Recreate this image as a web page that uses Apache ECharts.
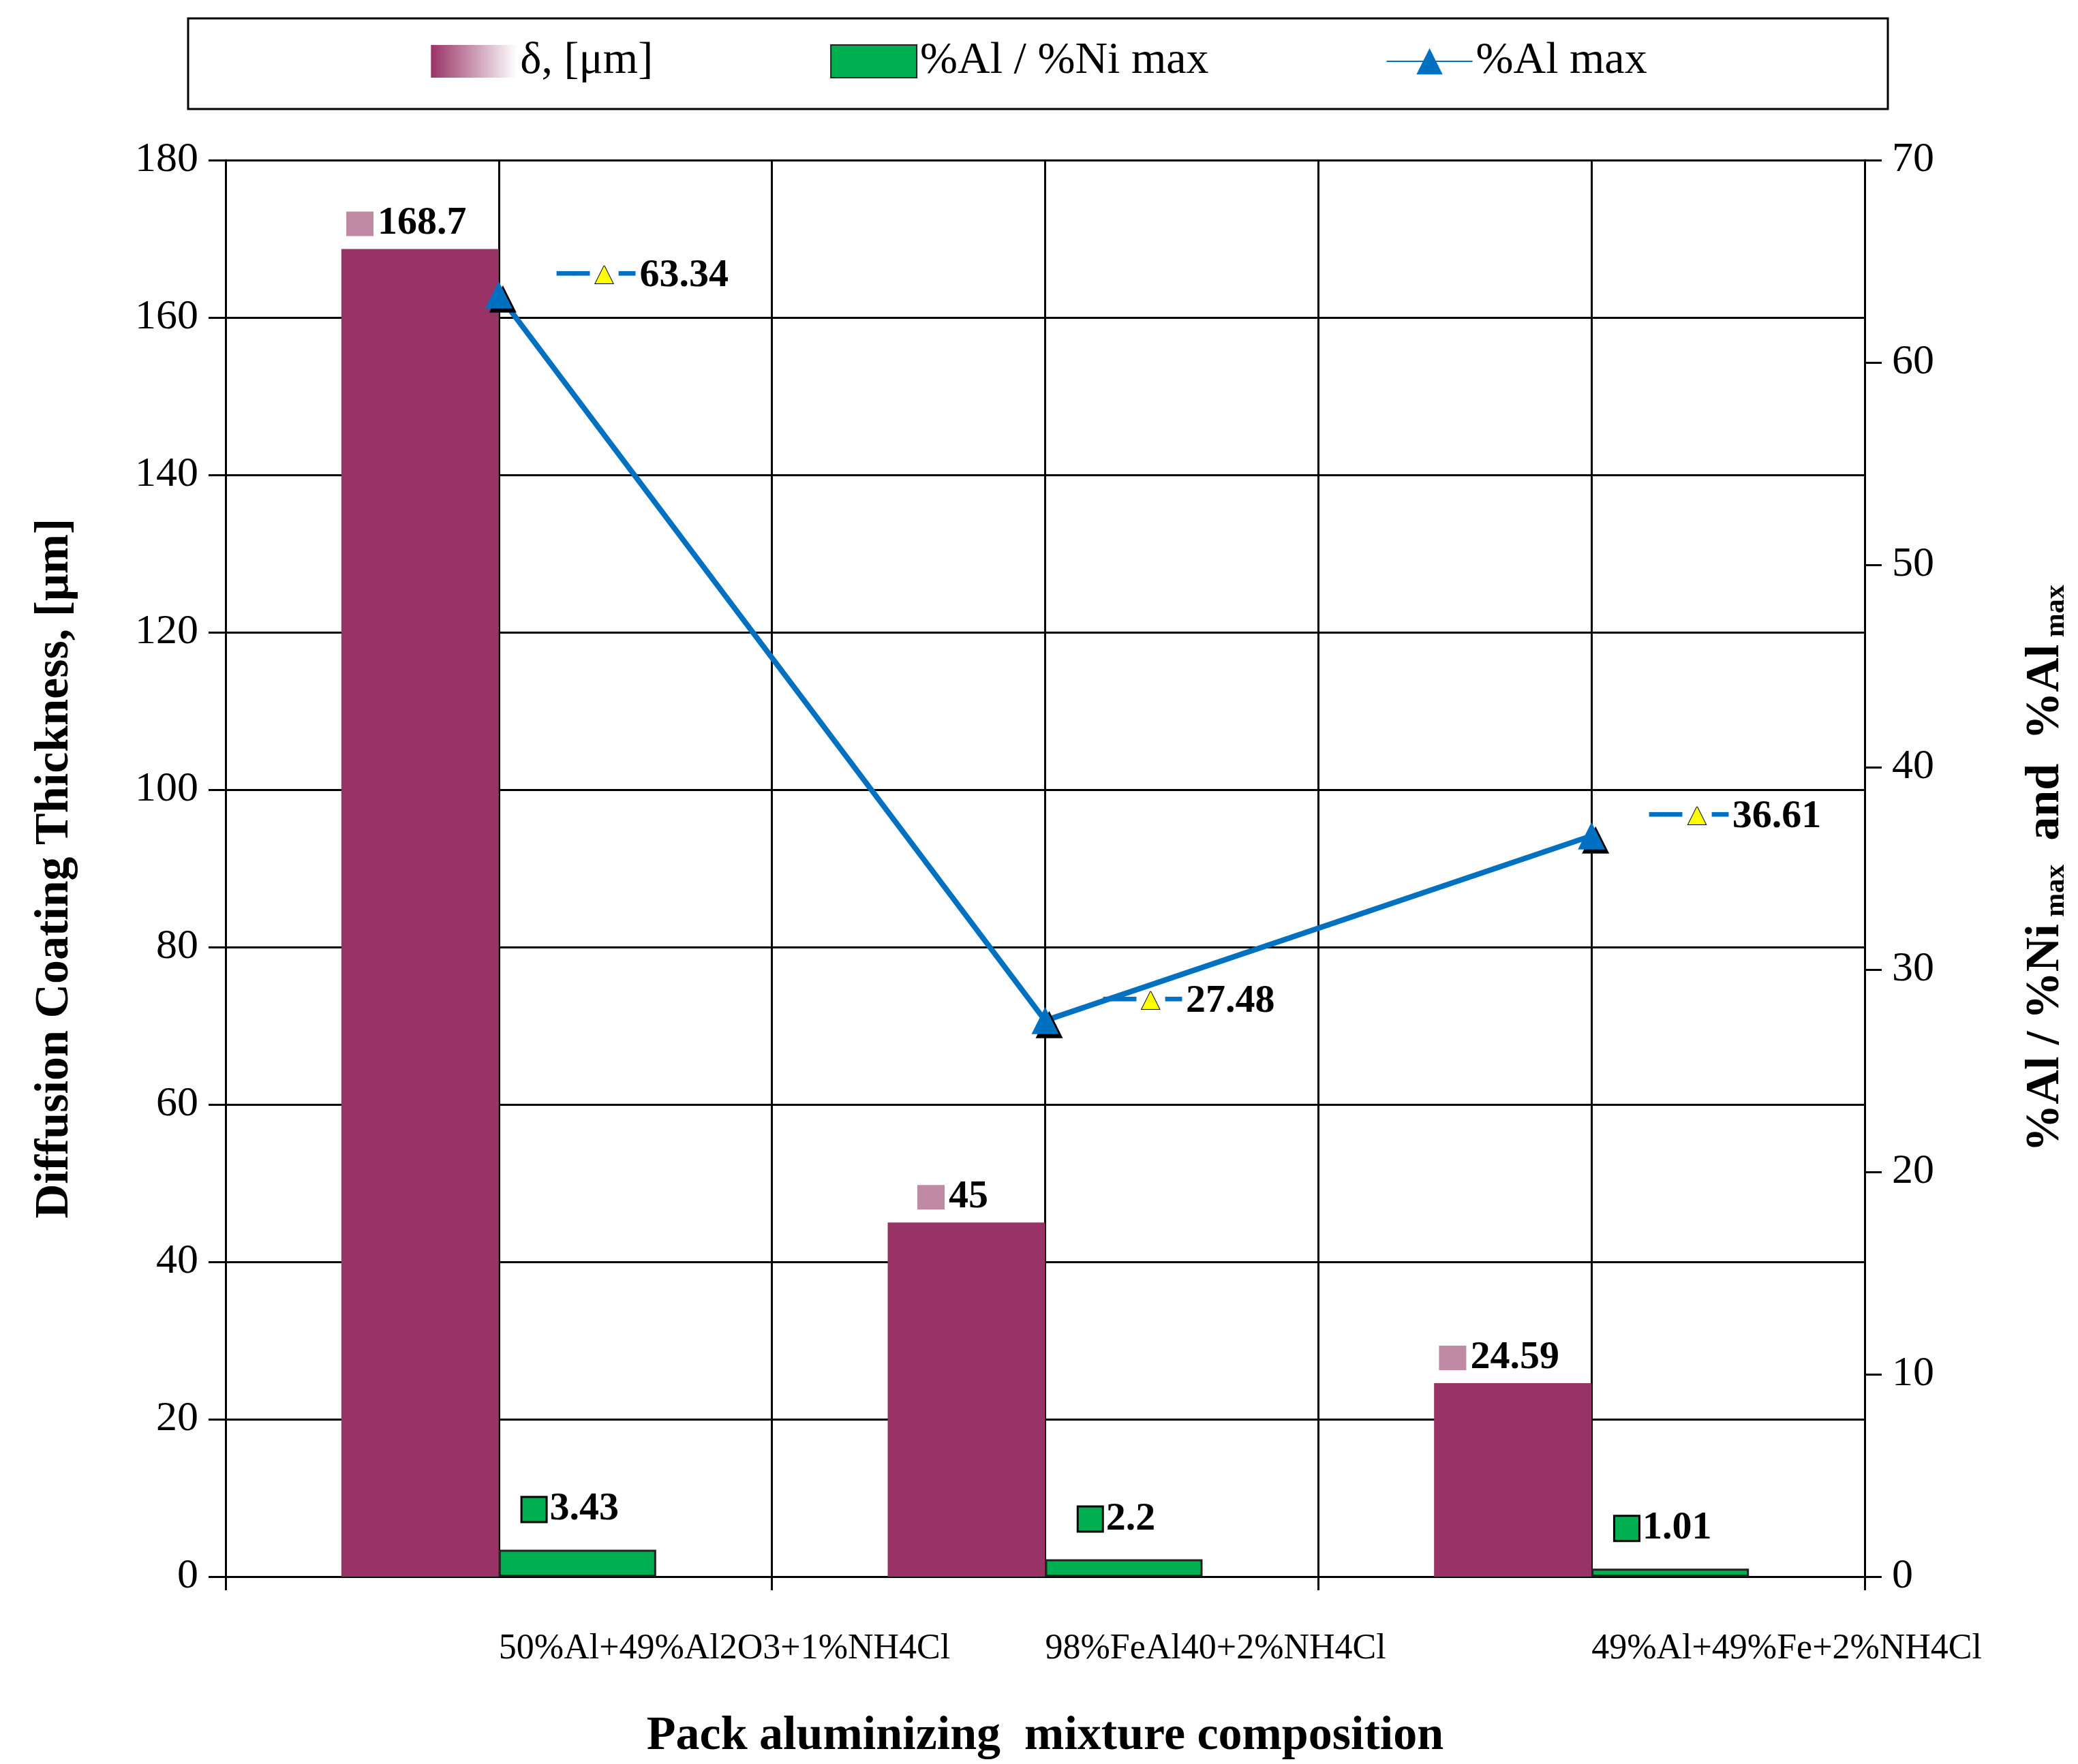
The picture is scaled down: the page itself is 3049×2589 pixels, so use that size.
<!DOCTYPE html>
<html><head><meta charset="utf-8">
<script src="https://cdn.jsdelivr.net/npm/echarts@6/dist/echarts.min.js"></script>
<style>html,body{margin:0;padding:0;background:#fff}#c{width:3049px;height:2589px}</style>
</head><body><div id="c"></div>
<script>
const categories = ['50%Al+49%Al2O3+1%NH4Cl', '98%FeAl40+2%NH4Cl', '49%Al+49%Fe+2%NH4Cl'];
const thickness = [168.7, 45, 24.59];
const alNiRatio = [3.43, 2.2, 1.01];
const alMax = [63.34, 27.48, 36.61];
const leftTicks = [0, 180, 20];
const rightTicks = [0, 70, 10];

const F = 'Liberation Serif';
const chart = echarts.init(document.getElementById('c'));
const lbl = {fontFamily: F, fontSize: 58, fontWeight: 'bold', color: '#000'};
chart.setOption({
  animation: false,
  textStyle: {fontFamily: F},
  graphic: [{type: 'rect', shape: {x: 276, y: 27, width: 2494, height: 133},
    style: {fill: 'none', stroke: '#000', lineWidth: 3}}],
  legend: {top: 52, left: 'center', itemWidth: 126, itemHeight: 48, itemGap: 260,
    textStyle: {fontFamily: F, fontSize: 66, color: '#000'},
    data: [
      {name: 'δ, [μm]', icon: 'rect', itemStyle: {color: new echarts.graphic.LinearGradient(0,0,1,0,[{offset:0,color:'#993366'},{offset:1,color:'#ffffff'}]), borderWidth: 0}},
      {name: '%Al / %Ni max', icon: 'rect'},
      {name: '%Al max'}
    ]},
  grid: {left: 331, right: 313, top: 235, bottom: 263},
  xAxis: [
    {type: 'category', data: categories,
      axisLine: {lineStyle: {color: '#000', width: 3}},
      axisTick: {show: true, length: 20, lineStyle: {color: '#000', width: 3}},
      axisLabel: {align: 'left', margin: 80, fontFamily: F, fontSize: 52, color: '#000', interval: 0,
        formatter: v => v},
      name: 'Pack aluminizing  mixture composition', nameLocation: 'middle', nameGap: 200,
      nameTextStyle: {fontFamily: F, fontSize: 70, fontWeight: 'bold', color: '#000'}},
    {type: 'value', min: 0, max: 6, interval: 1, show: true, position: 'top',
      axisLine: {show: false}, axisTick: {show: false}, axisLabel: {show: false},
      splitLine: {show: true, lineStyle: {color: '#000', width: 3}}}
  ],
  yAxis: [
    {type: 'value', min: leftTicks[0], max: leftTicks[1], interval: leftTicks[2],
      axisLine: {show: true, lineStyle: {color: '#000', width: 3}},
      axisTick: {show: true, length: 25, lineStyle: {color: '#000', width: 3}},
      axisLabel: {fontFamily: F, fontSize: 62, color: '#000', margin: 40},
      splitLine: {lineStyle: {color: '#000', width: 3}},
      name: 'Diffusion Coating Thickness, [μm]', nameLocation: 'middle', nameGap: 215,
      nameTextStyle: {fontFamily: F, fontSize: 70, fontWeight: 'bold', color: '#000'}},
    {type: 'value', min: rightTicks[0], max: rightTicks[1], interval: rightTicks[2],
      axisLine: {show: true, lineStyle: {color: '#000', width: 3}},
      axisTick: {show: true, length: 25, lineStyle: {color: '#000', width: 3}},
      axisLabel: {fontFamily: F, fontSize: 62, color: '#000', margin: 40},
      splitLine: {show: false},
      name: '{m|%Al / %Ni}{s| max}{m|  and  %Al}{s| max}', nameLocation: 'middle', nameGap: 230, nameRotate: 90,
      nameTextStyle: {rich: {
        m: {fontFamily: F, fontSize: 70, fontWeight: 'bold', color: '#000'},
        s: {fontFamily: F, fontSize: 42, fontWeight: 'bold', color: '#000', padding: [30, 0, 0, 0]}}}}
  ],
  series: [
    {name: 'δ, [μm]', type: 'bar', yAxisIndex: 0, data: thickness, barWidth: 231, barGap: '0%',
      itemStyle: {color: '#993366'},
      label: {show: true, position: 'top', distance: 8, offset: [-20, 0],
        formatter: '{i|}  {v|{c}}',
        rich: {i: {width: 40, height: 36, backgroundColor: '#c08aa5'}, v: lbl}}},
    {name: '%Al / %Ni max', type: 'bar', yAxisIndex: 0, data: alNiRatio, barWidth: 231,
      itemStyle: {color: '#00B050', borderColor: '#222', borderWidth: 3},
      label: {show: true, position: 'top', distance: 30, offset: [-10, 0],
        formatter: '{i|}  {v|{c}}',
        rich: {i: {width: 34, height: 34, backgroundColor: '#00B050', borderColor: '#000', borderWidth: 3}, v: lbl}}},
    {name: '%Al max', type: 'line', yAxisIndex: 1, data: alMax,
      lineStyle: {color: '#0070C0', width: 8}, itemStyle: {color: '#0070C0', shadowColor: '#000', shadowOffsetX: 6, shadowOffsetY: 6},
      symbol: 'triangle', symbolSize: 40,
      label: {show: true, position: 'right', offset: [60, -28],
        formatter: '{l|━━}{t|▲}{l|━}  {v|{c}}',
        rich: {l: {color: '#0070C0', fontSize: 40}, t: {color: '#ffff00', fontSize: 44, textBorderColor: '#000', textBorderWidth: 2}, v: lbl}}}
  ]
});
</script></body></html>
